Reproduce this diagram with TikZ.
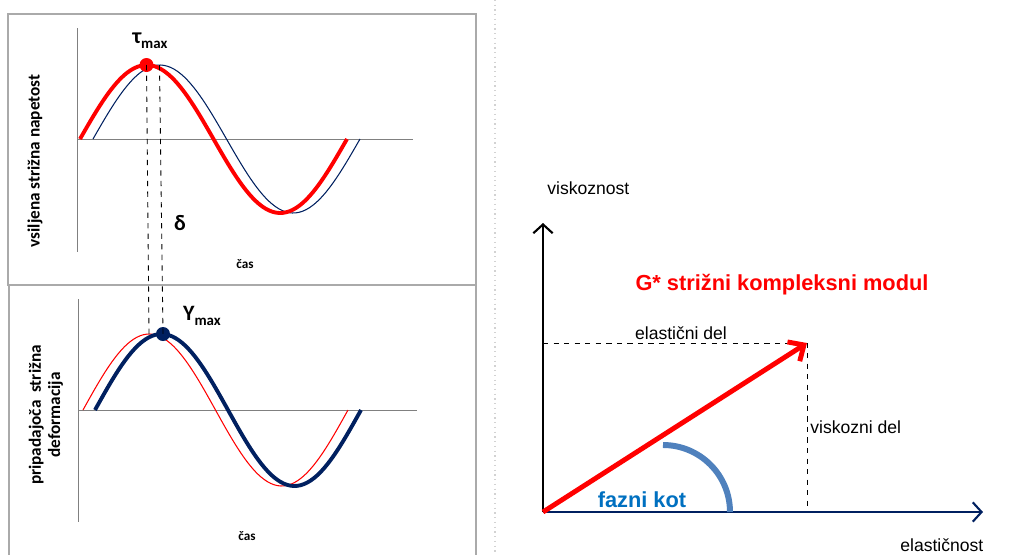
\documentclass[tikz,border=0pt]{standalone}
\usepackage{fontspec}
\setmainfont{Liberation Sans}
\newfontfamily\calib{Carlito}
\usetikzlibrary{arrows.meta}

\definecolor{navy}{RGB}{0,32,96}
\definecolor{arcblue}{RGB}{79,129,189}
\definecolor{kotblue}{RGB}{0,112,192}
\definecolor{boxgray}{RGB}{170,170,170}

\begin{document}
\begin{tikzpicture}[x=0.02cm,y=-0.02cm,
  panel/.style={draw=boxgray,line width=0.7pt},
  ax/.style={draw=gray,line width=0.5pt},
  ylab/.style={font=\calib\bfseries\fontsize{9.8}{11}\selectfont,rotate=90,align=center},
  caslab/.style={font=\calib\bfseries\fontsize{7.5}{8}\selectfont},
  greek/.style={font=\calib\bfseries\fontsize{12.5}{13}\selectfont,inner sep=0pt},
  lbl/.style={font=\fontsize{10}{12}\selectfont,inner sep=0pt},
  bold/.style={font=\bfseries\fontsize{12.4}{14}\selectfont,inner sep=0pt}]
\useasboundingbox (0,0) rectangle (1019,555);
\clip (0,0) rectangle (1019,555);
\draw[gray!35,dotted,line width=0.7pt] (495,0) -- (495,555);

% stress (top)
\draw[panel] (8,14) rectangle (476,285);
\draw[ax] (77,28) -- (77,252);
\draw[ax] (77,139) -- (413,139);
\draw[domain=93:360,samples=80,smooth,navy,line width=0.6pt]
    plot (\x,{139-74*sin(360/267*(\x-93))});
\draw[domain=80:347,samples=80,smooth,red,line width=2.2pt]
    plot (\x,{139-74*sin(360/267*(\x-80))});
\coordinate (tpr) at (146.5,65);
\coordinate (tpb) at (159.5,65);
\fill[red] (tpr) circle (7);
\node[greek] (tau) at (150,41) {τ\raisebox{-0.45ex}{\fontsize{8.5}{9}\selectfont max}};
\node[greek] (delta) at (180,223) {δ};
\node[caslab] (cas1) at (245,264) {čas};
\node[ylab] (ystress) at (35,161) {vsiljena strižna napetost};

% strain (bottom)
\draw[panel] (9,285) rectangle (476,580);
\draw[ax] (78,299) -- (78,522);
\draw[ax] (78,410) -- (417,410);
\draw[domain=83:348,samples=80,smooth,red,line width=0.6pt]
    plot (\x,{410-76*sin(360/265*(\x-83))});
\draw[domain=95:361,samples=80,smooth,navy,line width=2.2pt]
    plot (\x,{410-76*sin(360/266*(\x-95))});
\coordinate (bpr) at (149,335);
\coordinate (bpb) at (163,334);
\fill[navy] (bpb) circle (7);
\node[greek] (gam) at (202,316) {Υ\raisebox{-0.45ex}{\fontsize{8.5}{9}\selectfont max}};
\node[caslab] (cas2) at (247,536) {čas};
\node[ylab] (ystrain) at (46,415) {pripadajoča~~strižna\\deformacija};

% phase shift
\draw[dashed,line width=0.5pt] (tpr) -- (bpr);
\draw[dashed,line width=0.5pt] (tpb) -- (bpb);

% complex modulus
\coordinate (O) at (543,512);
\coordinate (G) at (807,343);
\coordinate (yend) at (543,223);
\coordinate (xend) at (983,512);
\draw[dashed,line width=0.5pt] (O |- G) -- (G) -- (G |- O);
\draw[-{Straight Barb[length=5pt,width=11pt]},line width=1.2pt] (O) -- (yend);
\draw[navy,-{Straight Barb[length=5pt,width=11pt]},line width=1.2pt] (O) -- (xend);
\draw[arcblue,line width=3.4pt] (663,445) arc[start angle=-90,end angle=0,radius=67];
\draw[red,-{Straight Barb[length=7pt,width=13pt]},line width=2.8pt] (O) -- (G);
\node[lbl,anchor=west] (visk) at (547,188) {viskoznost};
\node[lbl,anchor=west] (elast) at (900,545) {elastičnost};
\node[bold,red] (gstar) at (782,285) {G* strižni kompleksni modul};
\node[lbl] (eldel) at (681,333) {elastični del};
\node[lbl,anchor=west] (visdel) at (810,427) {viskozni del};
\node[bold,kotblue] (fkot) at (642,500) {fazni kot};
\end{tikzpicture}
\end{document}
